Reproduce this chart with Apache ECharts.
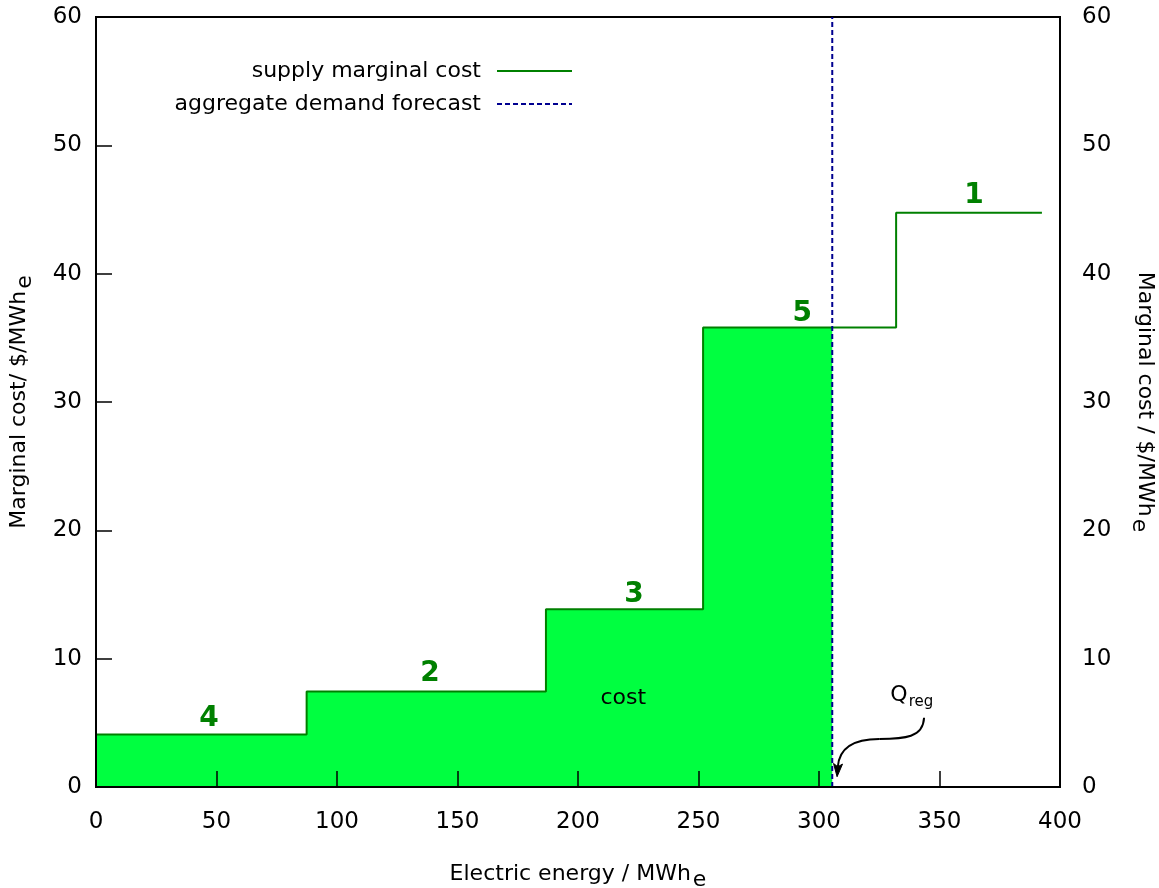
<!DOCTYPE html>
<html>
<head>
<meta charset="utf-8">
<script src="https://cdn.jsdelivr.net/npm/echarts@6/dist/echarts.min.js"></script>
<style>html,body{margin:0;padding:0;background:#fff}#c{width:1159px;height:888px}</style>
</head>
<body>
<div id="c"></div>
<script>
// ---- data ----
const stepStart = [0, 87.4, 186.7, 251.9, 332.0];
const stepEnd   = [87.4, 186.7, 251.9, 332.0, 392.5];
const stepCost  = [4.1, 7.45, 13.85, 35.8, 44.75];
const stepLabel = ['4', '2', '3', '5', '1'];
const stepLabelX = [46.9, 138.6, 223.2, 293.0, 364.3];
const stepLabelY = [5.3, 8.8, 15.0, 36.9, 46.1];
const demandQ = 305.5;
const costLabelPos = [218.8, 6.95];
const qregLabelPos = [338.5, 7.15];
const arrowPts = [[343.6, 5.4], [343.2, 3.85], [335.6, 3.75], [325.0, 3.75], [312.6, 3.75], [308.3, 2.85], [307.5, 0.8]];
const xTicks = [0, 50, 100, 150, 200, 250, 300, 350, 400];
const yTicks = [0, 10, 20, 30, 40, 50, 60];

// ---- build series data ----
const supplyLine = [];
stepStart.forEach((s, i) => { supplyLine.push([s, stepCost[i]]); supplyLine.push([stepEnd[i], stepCost[i]]); });
const costArea = [];
stepStart.forEach((s, i) => {
  if (s >= demandQ) return;
  costArea.push([s, stepCost[i]]);
  costArea.push([Math.min(stepEnd[i], demandQ), stepCost[i]]);
});

const FF = 'DejaVu Sans';
const GREEN = '#008000';
const FS = 22;
const subRich = { sub: { fontSize: FS, color: '#000', fontFamily: FF, padding: [11, 0, 0, 2] } };
const chart = echarts.init(document.getElementById('c'));
chart.setOption({
  animation: false,
  backgroundColor: '#fff',
  textStyle: { fontFamily: FF },
  grid: { left: 96, top: 17, right: 99, bottom: 101, containLabel: false, outerBoundsMode: 'none', show: true, borderColor: '#000', borderWidth: 2 },
  legend: [
    { data: ['supply marginal cost'], right: 581, top: 55, align: 'right', itemWidth: 75, itemHeight: 14,
      itemStyle: { opacity: 0 },
      textStyle: { fontSize: FS, fontFamily: FF, color: '#000', padding: [0, 11, 0, 0] } },
    { data: ['aggregate demand forecast'], right: 581, top: 88, align: 'right', itemWidth: 75, itemHeight: 14,
      itemStyle: { opacity: 0 },
      textStyle: { fontSize: FS, fontFamily: FF, color: '#000', padding: [0, 11, 0, 0] } }
  ],
  xAxis: {
    type: 'value', min: xTicks[0], max: xTicks[xTicks.length - 1], interval: 50, z: 10,
    axisLine: { show: true, onZero: false, lineStyle: { color: '#000', width: 2 } },
    axisTick: { show: true, inside: true, length: 16, lineStyle: { color: '#000', width: 1.5 } },
    axisLabel: { fontSize: 23, color: '#000', margin: 24, fontFamily: FF },
    splitLine: { show: false },
    name: 'Electric energy / MWh{sub|e}', nameLocation: 'middle', nameGap: 71,
    nameTextStyle: { fontSize: FS, color: '#000', fontFamily: FF, rich: subRich }
  },
  yAxis: [
    {
      type: 'value', min: yTicks[0], max: yTicks[yTicks.length - 1], interval: 10, position: 'left', z: 10,
      axisLine: { show: true, lineStyle: { color: '#000', width: 2 } },
      axisTick: { show: true, inside: true, length: 16, lineStyle: { color: '#000', width: 1.5 } },
      axisLabel: { fontSize: 23, color: '#000', margin: 14, fontFamily: FF },
      splitLine: { show: false },
      name: 'Marginal cost/ $/MWh{sub|e}', nameLocation: 'middle', nameGap: 60, nameRotate: 90,
      nameTextStyle: { fontSize: FS, color: '#000', fontFamily: FF, rich: subRich }
    },
    {
      type: 'value', min: yTicks[0], max: yTicks[yTicks.length - 1], interval: 10, position: 'right', z: 10,
      axisLine: { show: true, lineStyle: { color: '#000', width: 2 } },
      axisTick: { show: false },
      axisLabel: { fontSize: 23, color: '#000', margin: 22, fontFamily: FF },
      splitLine: { show: false },
      name: 'Marginal cost / $/MWh{sub|e}', nameLocation: 'middle', nameGap: 68, nameRotate: -90,
      nameTextStyle: { fontSize: FS, color: '#000', fontFamily: FF, rich: subRich }
    }
  ],
  series: [
    {
      name: 'cost area', type: 'line', data: costArea, symbol: 'none', silent: true, z: 1,
      lineStyle: { width: 0 }, areaStyle: { color: '#00ff40', opacity: 1 }
    },
    {
      name: 'supply marginal cost', type: 'line', data: supplyLine, symbol: 'none', z: 3,
      lineStyle: { color: GREEN, width: 2 }, itemStyle: { color: GREEN }
    },
    {
      name: 'aggregate demand forecast', type: 'line', data: [[demandQ, yTicks[0]], [demandQ, yTicks[yTicks.length - 1]]], symbol: 'none', z: 4,
      lineStyle: { color: '#000090', width: 2, type: [5, 3] }, itemStyle: { color: '#000090' }
    },
    {
      name: 'step labels', type: 'scatter', symbolSize: 0, silent: true, z: 5,
      itemStyle: { opacity: 1 },
      data: stepLabel.map((t, i) => ({ value: [stepLabelX[i], stepLabelY[i]], name: t })),
      label: { show: true, position: 'inside', formatter: '{b}', fontSize: 28, fontWeight: 'bold', color: GREEN, opacity: 1, textBorderWidth: 0, fontFamily: FF }
    },
    {
      name: 'annotations', type: 'scatter', symbolSize: 0, silent: true, z: 5,
      itemStyle: { opacity: 1 },
      data: [
        { value: costLabelPos, name: 'cost', label: { formatter: 'cost' } },
        { value: qregLabelPos, name: 'Qreg', label: { formatter: 'Q{sub|reg}' } }
      ],
      label: { show: true, position: 'inside', fontSize: FS, color: '#000', opacity: 1, textBorderWidth: 0, fontFamily: FF,
        rich: { sub: { fontSize: 15, color: '#000', fontFamily: FF, padding: [14, 0, 0, 1] } } }
    },
    {
      name: 'arrow', type: 'custom', silent: true, z: 6, data: [[arrowPts[0][0], arrowPts[0][1]]],
      renderItem: function (params, api) {
        const p = arrowPts.map(pt => api.coord(pt));
        const tip = p[6], from = p[5];
        let dx = tip[0] - from[0], dy = tip[1] - from[1];
        const L = Math.sqrt(dx * dx + dy * dy) || 1; dx /= L; dy /= L;
        const hl = 13, hw = 4.5;
        const bx = tip[0] - dx * hl, by = tip[1] - dy * hl;
        const nx = -dy, ny = dx;
        return {
          type: 'group',
          children: [
            { type: 'bezierCurve', shape: { x1: p[0][0], y1: p[0][1], cpx1: p[1][0], cpy1: p[1][1], cpx2: p[2][0], cpy2: p[2][1], x2: p[3][0], y2: p[3][1] }, style: { stroke: '#000', fill: null, lineWidth: 2 } },
            { type: 'bezierCurve', shape: { x1: p[3][0], y1: p[3][1], cpx1: p[4][0], cpy1: p[4][1], cpx2: p[5][0], cpy2: p[5][1], x2: bx + dx * 3, y2: by + dy * 3 }, style: { stroke: '#000', fill: null, lineWidth: 2 } },
            { type: 'polygon', shape: { points: [[tip[0], tip[1]], [bx + nx * hw, by + ny * hw], [bx + dx * 3, by + dy * 3], [bx - nx * hw, by - ny * hw]] }, style: { fill: '#000', stroke: '#000', lineWidth: 1 } }
          ]
        };
      }
    }
  ]
});
</script>
</body>
</html>
